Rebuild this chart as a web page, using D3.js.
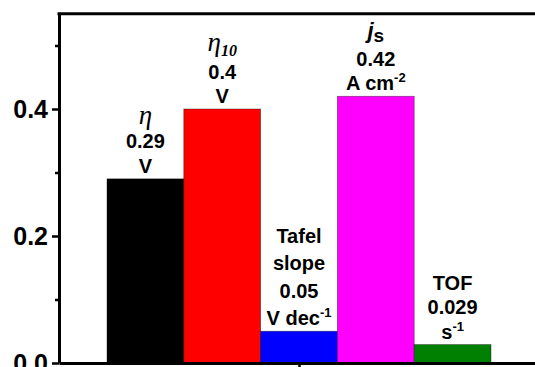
<!DOCTYPE html>
<html>
<head>
<meta charset="utf-8">
<script src="https://cdn.jsdelivr.net/npm/d3@7/dist/d3.min.js"></script>
<style>
  html, body { margin: 0; padding: 0; background: #fff; }
  svg { display: block; }
</style>
</head>
<body>
<svg id="chart" width="535" height="367"></svg>
<script>
// Electrocatalytic figures of merit, one bar per metric
const categories = ["η", "η10", "Tafel slope", "js", "TOF"];
const values = [0.29, 0.4, 0.05, 0.42, 0.029];
// Name lines drawn above each bar (_{..} subscript, ^{..} superscript)
const nameLines = [["η"], ["η_{10}"], ["Tafel", "slope"], ["j_{s}"], ["TOF"]];
const units = ["V", "V", "V dec^{-1}", "A cm^{-2}", "s^{-1}"];
const majorTicks = [0, 0.2, 0.4];
const minorTicks = [0.1, 0.3, 0.5];
const palette = ["#000000", "#ff0000", "#0000ff", "#ff00ff", "#008000"];

const W = 535, H = 367;
const frame = { left: 59, top: 13.75, bottom: 363 };
const svg = d3.select("#chart");

const y = d3.scaleLinear().domain([0, 0.55]).range([frame.bottom, frame.top]);
const x = d3.scaleLinear().domain([-0.125, 6.125]).range([frame.left, 539]);
const pos = i => i + 1;

// bars: contiguous, one unit wide around each category position
svg.append("g").selectAll("rect")
  .data(values)
  .join("rect")
  .attr("x", (d, i) => x(pos(i) - 0.5))
  .attr("width", (d, i) => x(pos(i) + 0.5) - x(pos(i) - 0.5))
  .attr("y", d => y(d))
  .attr("height", d => y(0) - y(d))
  .attr("fill", (d, i) => palette[i])
  .attr("stroke", "rgba(0,0,0,0.45)")
  .attr("stroke-width", 0.8);

// axes
const sans = "'Liberation Sans', Arial, sans-serif";
const serif = "'Liberation Serif', 'Times New Roman', serif";

const yAxis = svg.append("g")
  .attr("transform", `translate(${frame.left},0)`)
  .call(d3.axisLeft(y).tickValues(majorTicks).tickFormat(d3.format(".1f"))
    .tickSize(7).tickSizeOuter(0).tickPadding(4));
const yMinor = svg.append("g")
  .attr("transform", `translate(${frame.left},0)`)
  .call(d3.axisLeft(y).tickValues(minorTicks).tickFormat("").tickSize(4).tickSizeOuter(0));
yMinor.select(".domain").remove();

const xAxis = svg.append("g")
  .attr("transform", `translate(0,${frame.bottom})`)
  .call(d3.axisBottom(x).tickValues([3]).tickFormat("").tickSize(5).tickSizeOuter(0));

[yAxis, yMinor, xAxis].forEach(g => {
  g.selectAll(".domain").attr("stroke", "#000").attr("stroke-width", 3);
  g.selectAll(".tick line").attr("stroke", "#000").attr("stroke-width", 2.5);
});
yAxis.selectAll(".tick text")
  .attr("font-family", sans).attr("font-weight", "bold")
  .attr("font-size", 25).attr("fill", "#000");

// top spine
svg.append("line")
  .attr("x1", frame.left - 1.5).attr("x2", W)
  .attr("y1", y(0.55)).attr("y2", y(0.55))
  .attr("stroke", "#000").attr("stroke-width", 3);

// text with sub/superscript markup -> tspans
function tokens(str) {
  const out = [];
  const re = /(_|\^)\{([^}]*)\}/g;
  let last = 0, m;
  while ((m = re.exec(str)) !== null) {
    if (m.index > last) out.push({ t: str.slice(last, m.index), k: "base" });
    out.push({ t: m[2], k: m[1] === "_" ? "sub" : "sup" });
    last = re.lastIndex;
  }
  if (last < str.length) out.push({ t: str.slice(last), k: "base" });
  return out;
}

function styleFor(tok) {
  const greek = /[η]/.test(tok.t);
  if (tok.k === "base") {
    if (greek) return { fam: serif, size: 27, weight: "normal", style: "italic", shift: 0 };
    if (tok.sym) return { fam: sans, size: 22, weight: "bold", style: "italic", shift: 0 };
    return { fam: sans, size: 20, weight: "bold", style: "normal", shift: 0 };
  }
  if (tok.k === "sub") {
    if (tok.greekBase) return { fam: serif, size: 16, weight: "bold", style: "italic", shift: 5 };
    return { fam: sans, size: 19, weight: "bold", style: "normal", shift: 4 };
  }
  return { fam: sans, size: 13, weight: "bold", style: "normal", shift: -8 };
}

function drawLine(g, str, cx, baseline, isSymbol) {
  const text = g.append("text")
    .attr("x", cx).attr("y", baseline)
    .attr("text-anchor", "middle").attr("fill", "#000");
  let current = 0;
  let greekBase = false;
  tokens(str).forEach(tok => {
    tok.sym = isSymbol;
    tok.greekBase = greekBase;
    const s = styleFor(tok);
    text.append("tspan")
      .attr("dy", s.shift - current)
      .attr("font-family", s.fam)
      .attr("font-size", s.size)
      .attr("font-weight", s.weight)
      .attr("font-style", s.style)
      .text(tok.t);
    current = s.shift;
    if (tok.k === "base") greekBase = /[η]/.test(tok.t);
  });
}

// value labels stacked above each bar, built from the bottom line upwards
const labels = svg.append("g");
values.forEach((v, i) => {
  const single = nameLines[i].length === 1 && nameLines[i][0] !== "TOF";
  const lines = nameLines[i].map(t => ({ t, sym: single }))
    .concat([{ t: String(v), sym: false }, { t: units[i], sym: false }]);
  const step = nameLines[i].length > 1 ? 27.5 : 24.5;
  const cx = x(pos(i));
  let baseline = y(v) - 6;
  for (let j = lines.length - 1; j >= 0; j--) {
    drawLine(labels, lines[j].t, cx, baseline, lines[j].sym);
    // a subscripted symbol line needs a little more room below it
    const next = lines[j - 1];
    baseline -= step + (next && /_\{/.test(next.t) ? 3 : 0);
  }
});
</script>
</body>
</html>
